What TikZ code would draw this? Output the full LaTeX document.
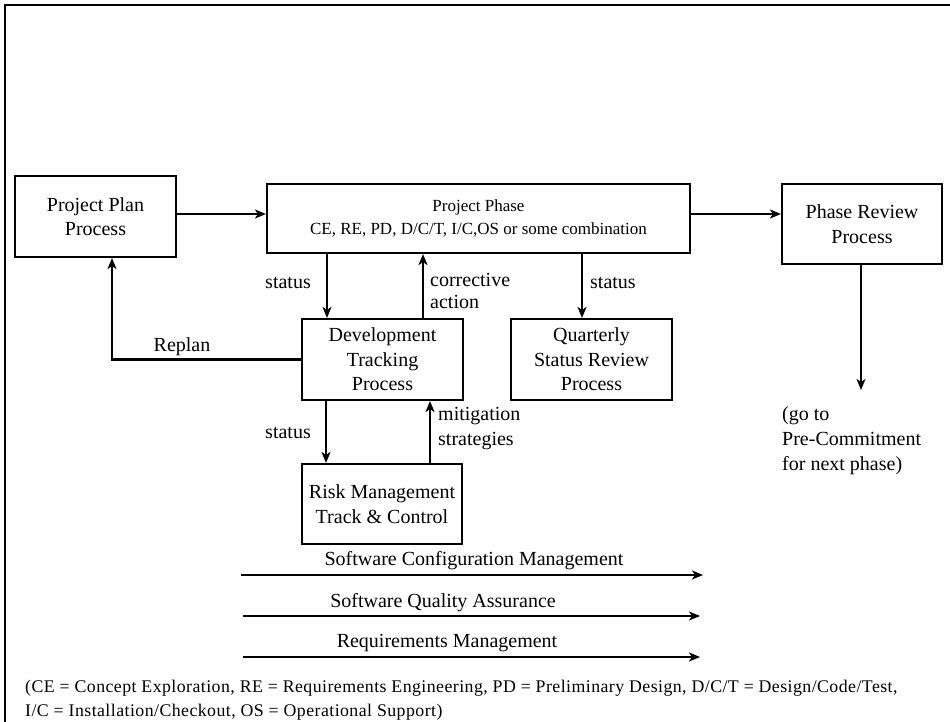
\documentclass[tikz,border=0pt]{standalone}
\usepackage{fontspec}
\setmainfont{Liberation Serif}
\newfontfamily\notefont[LetterSpace=2.5]{Liberation Serif}
\usetikzlibrary{arrows.meta}
\begin{document}
\begin{tikzpicture}[x=1pt,y=-1pt,
  box/.style={draw,line width=2.1pt,inner sep=0pt,align=center,font=\fontsize{20}{24.5}\selectfont},
  arr/.style={line width=2.1pt,-{Stealth[length=11pt,width=9pt,inset=3pt]}},
  lbl/.style={inner sep=0pt,font=\fontsize{20}{24}\selectfont},
  note/.style={inner sep=0pt,anchor=west,font=\notefont\fontsize{17.8}{24}\selectfont}]
\useasboundingbox (0,0) rectangle (950,722);
\fill[white] (0,0) rectangle (950,722);
\draw[line width=2.1pt] (5,722) -- (5,5) -- (950,5);

\node[box,minimum width=161pt,minimum height=81pt] (plan) at (95.5,216.5) {Project Plan\\Process};
\node[box,minimum width=423pt,minimum height=69pt,font=\fontsize{17}{23}\selectfont] (phase) at (478.5,218.5) {Project Phase\\CE, RE, PD, D/C/T, I/C,OS or some combination};
\node[box,minimum width=160pt,minimum height=80pt] (review) at (862,224) {Phase Review\\Process};
\node[box,minimum width=161pt,minimum height=81pt] (dev) at (382.5,359.5) {Development\\Tracking\\Process};
\node[box,minimum width=161pt,minimum height=81pt] (qsr) at (591.5,359.5) {Quarterly\\Status Review\\Process};
\node[box,minimum width=160pt,minimum height=80pt] (risk) at (382,504) {Risk Management\\Track \& Control};

\coordinate (xa) at (327,0);
\coordinate (xb) at (423,0);
\coordinate (xc) at (582,0);
\coordinate (xd) at (861,0);
\coordinate (xe) at (326,0);
\coordinate (xf) at (430,0);
\coordinate (gend) at (861,390);

\draw[arr] (plan.east |- 0,214) -- (phase.west |- 0,214);
\draw[arr] (phase.east |- 0,214) -- (review.west |- 0,214);
\draw[arr] (phase.south -| xa) -- (dev.north -| xa);
\draw[arr] (dev.north -| xb) -- (phase.south -| xb);
\draw[arr] (phase.south -| xc) -- (qsr.north -| xc);
\draw[arr] (review.south -| xd) -- (gend);
\draw[arr] (dev.south -| xe) -- (risk.north -| xe);
\draw[arr] (risk.north -| xf) -- (dev.south -| xf);
\draw[arr] (dev.west) -| ([xshift=16.5pt]plan.south);

\node[lbl,anchor=east] (l1) at (311,283) {status};
\node[lbl,anchor=north west,align=left,font=\fontsize{20}{22}\selectfont] (l2) at (430,273) {corrective\\action};
\node[lbl,anchor=west] (l3) at (590,283) {status};
\node[lbl] (l4) at (182,347) {Replan};
\node[lbl,anchor=east] (l5) at (311,433) {status};
\node[lbl,anchor=north west,align=left,font=\fontsize{20}{25}\selectfont] (l6) at (438,407) {mitigation\\strategies};
\node[lbl,anchor=north west,align=left,font=\fontsize{20}{25}\selectfont] (l7) at (782,406) {(go to\\Pre-Commitment\\for next phase)};

\coordinate (s1a) at (241,575); \coordinate (s1b) at (703,575);
\coordinate (s2a) at (243,616); \coordinate (s2b) at (700,616);
\coordinate (s3a) at (243,657); \coordinate (s3b) at (700,657);
\draw[arr] (s1a) -- (s1b);
\draw[arr] (s2a) -- (s2b);
\draw[arr] (s3a) -- (s3b);
\node[lbl] (t1) at (474,561) {Software Configuration Management};
\node[lbl] (t2) at (443,603) {Software Quality Assurance};
\node[lbl] (t3) at (447,643) {Requirements Management};

\node[note] (n1) at (25,688) {(CE = Concept Exploration, RE = Requirements Engineering, PD = Preliminary Design, D/C/T = Design/Code/Test,};
\node[note] (n2) at (25,712) {I/C = Installation/Checkout, OS = Operational Support)};
\end{tikzpicture}
\end{document}
